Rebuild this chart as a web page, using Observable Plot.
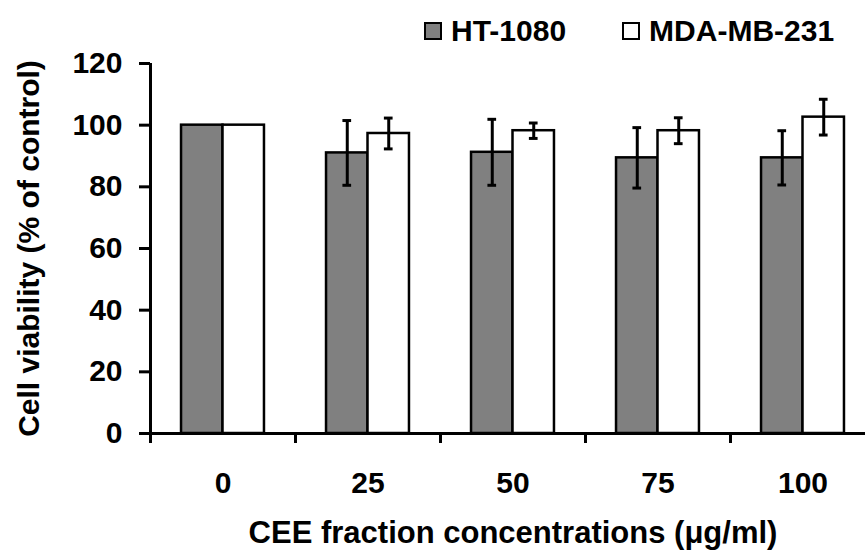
<!DOCTYPE html>
<html>
<head>
<meta charset="utf-8">
<script src="https://cdn.jsdelivr.net/npm/d3@7"></script>
<script src="https://cdn.jsdelivr.net/npm/@observablehq/plot@0.6"></script>
<style>
  body { margin: 0; background: white; }
  #wrap { position: relative; width: 865px; height: 550px; font-family: "Liberation Sans", Arial, sans-serif; }
  #legend { position: absolute; left: 424px; top: 14px; display: flex; align-items: center; font-size: 30px; font-weight: bold; line-height: 34px; }
  .item { display: flex; align-items: center; }
  .item + .item { margin-left: 56px; }
  .swatch { width: 18px; height: 18px; box-sizing: border-box; border: 2.5px solid black; margin-right: 9px; }
</style>
</head>
<body>
<div id="wrap">
  <div id="chart"></div>
  <div id="legend"></div>
</div>
<script>
// Cell viability after treatment with CEE fraction (mean ± SD, % of control)
const concentrations = ["0", "25", "50", "75", "100"];
const seriesNames = ["HT-1080", "MDA-MB-231"];
const seriesFill = ["#808080", "#ffffff"];
const ht1080 = [100, 91.0, 91.2, 89.4, 89.4];
const ht1080Err = [0, 10.5, 10.7, 9.8, 8.8];
const mdaMb231 = [100, 97.3, 98.2, 98.2, 102.6];
const mdaMb231Err = [0, 5.0, 2.5, 4.2, 5.8];
const yTicks = [0, 20, 40, 60, 80, 100, 120];

// one row per bar; slot is the concentration's position on the x scale
const rows = [];
concentrations.forEach((c, i) => {
  rows.push({conc: c, slot: i, series: 0, value: ht1080[i], err: ht1080Err[i]});
  rows.push({conc: c, slot: i, series: 1, value: mdaMb231[i], err: mdaMb231Err[i]});
});

// within each concentration slot: bar edges and centres (fractions of the slot)
const barLeft = [0.214, 0.5];
const barRight = [0.5, 0.786];
const center = d => d.slot + (barLeft[d.series] + barRight[d.series]) / 2;
const cap = 0.03;
const withErr = rows.filter(d => d.err > 0);

const font = {fontSize: 30, fontWeight: "bold", fill: "black"};

const chart = Plot.plot({
  width: 865,
  height: 550,
  marginLeft: 150,
  marginRight: 0,
  marginTop: 63,
  marginBottom: 117,
  style: {fontFamily: "'Liberation Sans', Arial, sans-serif", background: "white", overflow: "visible"},
  x: {type: "linear", domain: [0, concentrations.length], range: [150, 875], axis: null},
  y: {domain: [0, 120], axis: null},
  marks: [
    Plot.rectY(rows, {
      x1: d => d.slot + barLeft[d.series],
      x2: d => d.slot + barRight[d.series],
      y1: 0,
      y2: "value",
      fill: d => seriesFill[d.series],
      stroke: "black",
      strokeWidth: 2.5
    }),
    // error bars
    Plot.ruleX(withErr, {x: center, y1: d => d.value - d.err, y2: d => d.value + d.err, stroke: "black", strokeWidth: 3}),
    Plot.ruleY(withErr, {y: d => d.value + d.err, x1: d => center(d) - cap, x2: d => center(d) + cap, stroke: "black", strokeWidth: 3}),
    Plot.ruleY(withErr, {y: d => d.value - d.err, x1: d => center(d) - cap, x2: d => center(d) + cap, stroke: "black", strokeWidth: 3}),
    // y axis
    Plot.axisY({ticks: yTicks, tickSize: 11, tickPadding: 17, strokeWidth: 3, ...font, label: null}),
    Plot.ruleX([0], {y1: -3.25, y2: 120, stroke: "black", strokeWidth: 3}),
    // x axis with ticks between concentration groups
    Plot.ruleY([0], {stroke: "black", strokeWidth: 3}),
    Plot.ruleX(d3.range(1, concentrations.length), {y1: -3.25, y2: 0, stroke: "black", strokeWidth: 3}),
    Plot.text(concentrations, {x: (d, i) => i + 0.5, frameAnchor: "bottom", dy: 50, lineAnchor: "middle", ...font}),
    // axis titles
    Plot.text(["CEE fraction concentrations (\u03bcg/ml)"], {x: concentrations.length / 2, frameAnchor: "bottom", dy: 100, lineAnchor: "middle", ...font, fontSize: 31}),
    Plot.text(["Cell viability (% of control)"], {y: 60, frameAnchor: "left", dx: -121, rotate: -90, textAnchor: "middle", lineAnchor: "middle", ...font})
  ]
});
document.getElementById("chart").appendChild(chart);

// legend
const legend = document.getElementById("legend");
seriesNames.forEach((name, i) => {
  const item = document.createElement("div");
  item.className = "item";
  const sw = document.createElement("span");
  sw.className = "swatch";
  sw.style.background = seriesFill[i];
  const label = document.createElement("span");
  label.textContent = name;
  item.append(sw, label);
  legend.append(item);
});
</script>
</body>
</html>
